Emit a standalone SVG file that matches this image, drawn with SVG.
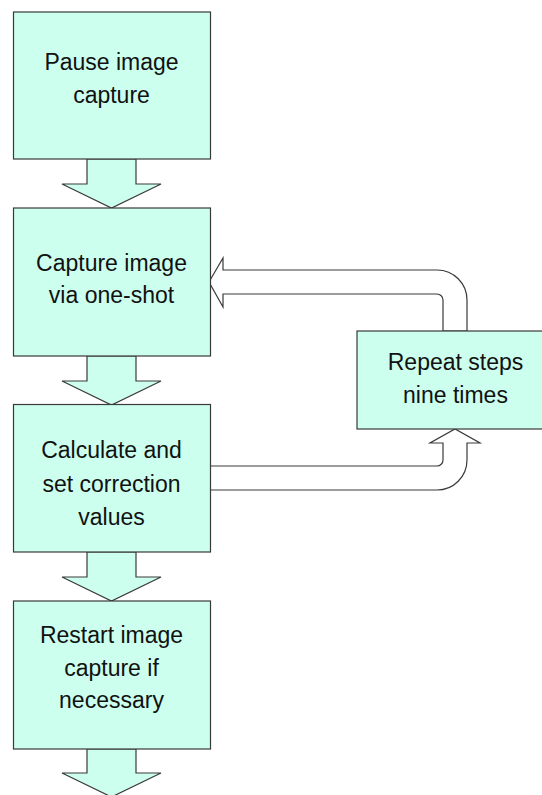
<svg xmlns="http://www.w3.org/2000/svg" width="542" height="795" viewBox="0 0 542 795">
  <style>
    .box { fill: #CCFFEE; stroke: #3a3a3a; stroke-width: 1.2; }
    .down { fill: #CCFFEE; stroke: #3a3a3a; stroke-width: 1.2; stroke-linejoin: miter; }
    .loop { fill: #FFFFFF; stroke: #3a3a3a; stroke-width: 1.2; }
    .lbl { font-family: "Liberation Sans", Arial, sans-serif; font-size: 23px; fill: #111111; text-anchor: middle; }
  </style>
  <rect width="542" height="795" fill="#FFFFFF"/>
  <g id="connectors">
    <path class="down" d="M87,159 L136,159 L136,184 L161,184 L111.5,208 L62,184 L87,184 Z"/>
    <path class="down" d="M87,356 L136,356 L136,381 L161,381 L111.5,405 L62,381 L87,381 Z"/>
    <path class="down" d="M87,552 L136,552 L136,577 L161,577 L111.5,601 L62,577 L87,577 Z"/>
    <path class="down" d="M87,749 L136,749 L136,773 L161,773 L111.5,797 L62,773 L87,773 Z"/>
    <path class="loop" d="M209,282 L223,258 L223,270 L437,270 A30,30 0 0 1 467,300 L467,331 L443,331 L443,300 A6,6 0 0 0 437,294 L223,294 L223,307 Z"/>
    <path class="loop" d="M210,466 L437,466 A6,6 0 0 0 443,460 L443,443 L430,443 L455,429 L480,443 L467,443 L467,460 A30,30 0 0 1 437,490 L210,490 Z"/>
  </g>
  <g id="node-pause">
    <rect class="box" x="13.5" y="12" width="197" height="147"/>
    <text class="lbl" x="111.5" y="70">Pause image</text>
    <text class="lbl" x="111.5" y="103">capture</text>
  </g>
  <g id="node-capture">
    <rect class="box" x="13.5" y="208" width="197" height="148"/>
    <text class="lbl" x="111.5" y="271">Capture image</text>
    <text class="lbl" x="111.5" y="303">via one-shot</text>
  </g>
  <g id="node-calculate">
    <rect class="box" x="13.5" y="404.5" width="197" height="147.5"/>
    <text class="lbl" x="111.5" y="458">Calculate and</text>
    <text class="lbl" x="111.5" y="492">set correction</text>
    <text class="lbl" x="111.5" y="525">values</text>
  </g>
  <g id="node-restart">
    <rect class="box" x="13.5" y="601" width="197" height="148"/>
    <text class="lbl" x="111.5" y="643">Restart image</text>
    <text class="lbl" x="111.5" y="676">capture if</text>
    <text class="lbl" x="111.5" y="708">necessary</text>
  </g>
  <g id="node-repeat">
    <rect class="box" x="357" y="331" width="197" height="98"/>
    <text class="lbl" x="455.5" y="370">Repeat steps</text>
    <text class="lbl" x="455.5" y="403">nine times</text>
  </g>
</svg>
